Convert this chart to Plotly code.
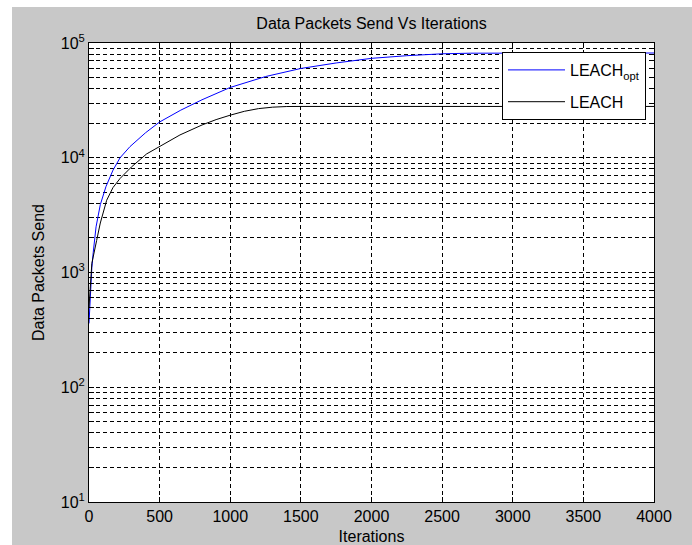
import plotly.graph_objects as go

# ---- data ----
opt_iter = [0, 10, 20, 30, 50, 80, 120, 170, 220, 290, 400, 500, 650, 800,
            1000, 1250, 1500, 1750, 2000, 2250, 2500, 2700, 3000, 4000]
opt_vals = [360, 700, 1100, 1500, 2500, 3900, 5600, 7800, 10000, 12500, 16500,
            20500, 26000, 32000, 41000, 51000, 60000, 67000, 73500, 77500,
            80500, 81500, 81800, 81800]

leach_iter = [0, 10, 20, 54, 80, 125, 170, 220, 300, 408, 500, 644, 800,
              900, 1000, 1100, 1200, 1300, 1400, 1500, 4000]
leach_vals = [500, 900, 1200, 1900, 2700, 4260, 5500, 6600, 8300, 10800,
              12600, 15800, 19300, 21500, 23500, 25400, 26800, 27600, 27950,
              28000, 28000]

x_ticks = [0, 500, 1000, 1500, 2000, 2500, 3000, 3500, 4000]

y_tickvals = []
y_ticktext = []
for d in range(1, 5):
    for m in range(1, 10):
        y_tickvals.append(m * 10 ** d)
        y_ticktext.append(f"10<sup>{d}</sup>" if m == 1 else "")
y_tickvals.append(10 ** 5)
y_ticktext.append("10<sup>5</sup>")

FONT = "Liberation Sans, Arial, Helvetica, sans-serif"
GRAY = "#c8c8c8"

W, H = 692, 545
ML, MR, MT, MB = 89, 38, 43, 43
PW, PH = W - ML - MR, H - MT - MB

fig = go.Figure()
fig.add_trace(go.Scatter(
    x=opt_iter, y=opt_vals, mode="lines", name="LEACH<sub>opt</sub>",
    line=dict(color="#0000ff", width=1), legendgroup="a"))
fig.add_trace(go.Scatter(
    x=leach_iter, y=leach_vals, mode="lines", name="LEACH",
    line=dict(color="#000000", width=1), legendgroup="b"))

fig.update_layout(
    width=W, height=H,
    margin=dict(l=ML, r=MR, t=MT, b=MB, autoexpand=False),
    paper_bgcolor=GRAY, plot_bgcolor="white",
    font=dict(family=FONT, size=16, color="#000000"),
    title=dict(text="Data Packets Send Vs Iterations", x=(ML + PW / 2) / W,
               xanchor="center", y=1 - 23 / H, yanchor="middle",
               yref="container", font=dict(size=16)),
    showlegend=True,
    legend=dict(x=(646 - ML) / PW, xanchor="right", y=(MT + PH - 52) / PH,
                yanchor="top", bgcolor="white", bordercolor="black",
                borderwidth=1, font=dict(size=16), tracegroupgap=8,
                traceorder="grouped", itemwidth=57),
    xaxis=dict(range=[0, 4000], tickvals=x_ticks, ticks="inside", ticklen=5,
               tickcolor="black", showline=True, linecolor="black",
               linewidth=1, mirror="ticks", showgrid=True, gridcolor="black",
               gridwidth=1, griddash="4px,3px", zeroline=False,
               tickfont=dict(size=16),
               title=dict(text="Iterations", standoff=7,
                          font=dict(size=16))),
    yaxis=dict(type="log", range=[1, 5], tickvals=y_tickvals,
               ticktext=y_ticktext, ticks="inside", ticklen=5,
               tickcolor="black", showline=True, linecolor="black",
               linewidth=1, mirror="ticks", showgrid=True, gridcolor="black",
               gridwidth=1, griddash="4px,3px", zeroline=False,
               tickfont=dict(size=16),
               title=dict(text="Data Packets Send", standoff=12,
                          font=dict(size=16))),
    shapes=[
        dict(type="rect", xref="paper", yref="paper",
             x0=-ML / PW, x1=(12 - ML) / PW, y0=-MB / PH, y1=(PH + MT) / PH,
             fillcolor="white", line=dict(width=0), layer="above"),
        dict(type="rect", xref="paper", yref="paper",
             x0=-ML / PW, x1=(W - ML) / PW, y0=(PH + MT - 7) / PH,
             y1=(PH + MT) / PH,
             fillcolor="white", line=dict(width=0), layer="above"),
    ],
)

fig.write_html("out.html")
